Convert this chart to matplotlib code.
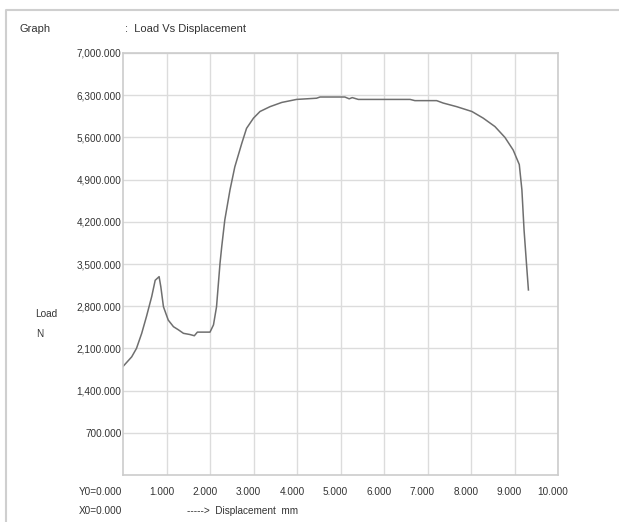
import matplotlib
matplotlib.use('Agg')
import matplotlib.pyplot as plt
import matplotlib.transforms as mtransforms
from matplotlib.lines import Line2D

W, H = 619, 522

# data (load in N as printed on the axis)
displacement = [0.00, 0.20, 0.31, 0.43, 0.54, 0.66, 0.74, 0.83, 0.87, 0.93,
                1.04, 1.16, 1.27, 1.39, 1.54, 1.64, 1.71, 2.00, 2.08, 2.15,
                2.23, 2.27, 2.34, 2.46, 2.57, 2.73, 2.84, 3.00, 3.15, 3.38,
                3.65, 3.99, 4.45, 4.53, 5.10, 5.20, 5.27, 5.41, 6.60, 6.71,
                7.21, 7.36, 7.67, 8.02, 8.28, 8.55, 8.78, 8.97, 9.11, 9.17,
                9.22, 9.28, 9.32]
load = [1800, 1960, 2100, 2350, 2630, 2960, 3230, 3290, 3120, 2790,
        2570, 2460, 2410, 2350, 2330, 2310, 2370, 2370, 2490, 2790,
        3510, 3790, 4230, 4730, 5110, 5500, 5750, 5920, 6030, 6110,
        6180, 6230, 6250, 6270, 6270, 6240, 6260, 6230, 6230, 6210,
        6210, 6170, 6110, 6030, 5920, 5780, 5600, 5390, 5150, 4730,
        4060, 3460, 3070]

x_ticks = [1, 2, 3, 4, 5, 6, 7, 8, 9, 10]
x_labels = ['1.000', '2.000', '3.000', '4.000', '5.000',
            '6.000', '7.000', '8.000', '9.000', '10.000']
y_ticks = [700, 1400, 2100, 2800, 3500, 4200, 4900, 5600, 6300, 7000]
y_labels = ['700.000', '1,400.000', '2,100.000', '2,800.000', '3,500.000',
            '4,200.000', '4,900.000', '5,600.000', '6,300.000', '7,000.000']

plt.rcParams['font.family'] = ['Liberation Sans', 'DejaVu Sans']

fig = plt.figure(figsize=(W / 100, H / 100), dpi=100)
ax = fig.add_axes([123 / W, (H - 475) / H, 435 / W, 422 / H])

ax.plot(displacement, load, color='#6f6f6f', lw=1.1)
ax.set_xlim(0, 10)
ax.set_ylim(0, 7000)
ax.set_xticks(x_ticks)
ax.set_xticklabels(x_labels)
ax.set_yticks(y_ticks)
ax.set_yticklabels(y_labels)
ax.grid(color='#dcdcdc', lw=1.0)
ax.tick_params(length=0, labelsize=7.2, labelcolor='#333333')
ax.tick_params(axis='x', pad=8.5)
ax.tick_params(axis='y', pad=1)
for s in ax.spines.values():
    s.set_color('#cccccc')
    s.set_linewidth(1.2)

# x labels sit a bit left of their grid lines
offset = mtransforms.ScaledTranslation(-5 / 100, 0, fig.dpi_scale_trans)
for lab in ax.get_xticklabels():
    lab.set_transform(lab.get_transform() + offset)


def px(x, y):
    return x / W, 1 - y / H


# frame of the window
fig.add_artist(Line2D([6 / W, 6 / W, 1], [0, 1 - 10 / H, 1 - 10 / H],
                      color='#cfcfcf', lw=1.5))

txt = dict(color='#333333', fontsize=7.2)
fig.text(*px(20, 29), 'Graph', va='center', ha='left', fontsize=8, color='#333333')
fig.text(*px(125, 29), ':  Load Vs Displacement', va='center', ha='left',
         fontsize=8, color='#333333')
fig.text(*px(35, 314), 'Load', va='center', ha='left', **txt)
fig.text(*px(36, 334), 'N', va='center', ha='left', **txt)
fig.text(*px(122, 492), 'Y0=0.000', va='center', ha='right', **txt)
fig.text(*px(122, 511), 'X0=0.000', va='center', ha='right', **txt)
fig.text(*px(187, 511), '----->  Displacement  mm', va='center', ha='left', **txt)

fig.savefig('out.png', dpi=100)
